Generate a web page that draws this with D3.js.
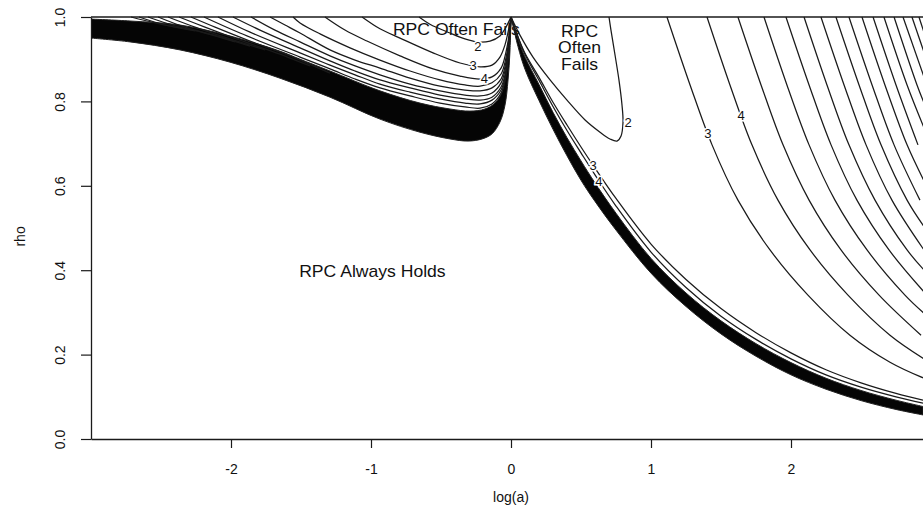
<!DOCTYPE html>
<html>
<head>
<meta charset="utf-8">
<script src="https://cdn.jsdelivr.net/npm/d3@7"></script>
<style>
  html, body { margin: 0; padding: 0; background: #fff; }
  svg { display: block; font-family: "Liberation Sans", Arial, Helvetica, sans-serif; }
</style>
</head>
<body>
<svg id="chart" width="923" height="508"></svg>
<script>
// Contour lines of the RPC measure, points as [log(a), rho]

const xTicks = [-2, -1, 0, 1, 2];
const yTicks = [0, 0.2, 0.4, 0.6, 0.8, 1.0];

// left of log(a) = 0: levels 2..10, drawn individually
const left2 = [[-0.657,1],[-0.579,0.983],[-0.436,0.962],[-0.329,0.948],[-0.243,0.941],[-0.15,0.943],[-0.079,0.955],[-0.036,0.976],[-0.007,0.995],[0,1]];
const left3 = [[-1.064,1],[-0.936,0.972],[-0.793,0.950],[-0.557,0.915],[-0.364,0.891],[-0.221,0.882],[-0.136,0.886],[-0.079,0.905],[-0.043,0.934],[-0.021,0.964],[0,1]];
const left4 = [[-1.329,1],[-1.186,0.969],[-1.029,0.943],[-0.793,0.908],[-0.557,0.877],[-0.364,0.860],[-0.221,0.853],[-0.136,0.858],[-0.071,0.879],[-0.036,0.917],[-0.014,0.957],[0,1]];
const left5 = [[-1.557,1],[-1.507,0.986],[-1.364,0.960],[-1.15,0.927],[-0.936,0.898],[-0.721,0.872],[-0.507,0.851],[-0.329,0.839],[-0.221,0.836],[-0.136,0.844],[-0.071,0.865],[-0.036,0.903],[-0.014,0.950],[0,1]];
const left6 = [[-1.721,1],[-1.614,0.981],[-1.507,0.962],[-1.293,0.922],[-1.114,0.898],[-0.936,0.879],[-0.721,0.855],[-0.507,0.836],[-0.329,0.827],[-0.221,0.825],[-0.136,0.832],[-0.071,0.853],[-0.036,0.893],[-0.014,0.945],[0,1]];
const left7 = [[-1.857,1],[-1.686,0.969],[-1.507,0.941],[-1.293,0.908],[-1.114,0.884],[-0.936,0.863],[-0.721,0.841],[-0.507,0.825],[-0.329,0.815],[-0.221,0.813],[-0.136,0.820],[-0.071,0.844],[-0.036,0.884],[-0.014,0.938],[0,1]];
const left8 = [[-1.986,1],[-1.793,0.969],[-1.507,0.927],[-1.293,0.896],[-1.114,0.872],[-0.936,0.851],[-0.721,0.832],[-0.507,0.815],[-0.329,0.806],[-0.221,0.803],[-0.136,0.810],[-0.071,0.834],[-0.036,0.874],[-0.014,0.931],[0,1]];
const left9 = [[-2.093,1],[-1.864,0.964],[-1.507,0.915],[-1.293,0.886],[-1.114,0.863],[-0.936,0.841],[-0.721,0.822],[-0.507,0.806],[-0.329,0.796],[-0.221,0.794],[-0.136,0.803],[-0.071,0.827],[-0.036,0.867],[-0.014,0.927],[0,1]];
const left10 = [[-2.193,1],[-1.936,0.962],[-1.507,0.905],[-1.293,0.877],[-1.114,0.853],[-0.936,0.832],[-0.721,0.813],[-0.507,0.796],[-0.329,0.787],[-0.221,0.784],[-0.136,0.794],[-0.071,0.820],[-0.036,0.860],[-0.014,0.922],[0,1]];

// higher left levels running into the dense band
const leftDense = [
  [[-2.286,1],[-2.114,0.976],[-1.864,0.943],[-1.579,0.908],[-1.293,0.867]],
  [[-2.371,1],[-2.186,0.976],[-1.936,0.945],[-1.65,0.912],[-1.436,0.884]],
  [[-2.45,1],[-2.257,0.976],[-2.007,0.948],[-1.757,0.922]],
  [[-2.521,1],[-2.329,0.976],[-2.079,0.953],[-1.864,0.931]],
  [[-2.593,1],[-2.4,0.979],[-2.186,0.962],[-1.971,0.941]],
  [[-2.657,1],[-2.471,0.981],[-2.257,0.967]],
  [[-2.714,1],[-2.543,0.986],[-2.364,0.974]]
];

// edges of the band where the left contours pile up
const leftBandTop = [[-3,0.995],[-2.721,0.9905],[-2.364,0.981],[-2.007,0.955],[-1.65,0.919],[-1.507,0.900],[-1.293,0.872],[-0.936,0.825],[-0.65,0.796],[-0.436,0.782],[-0.293,0.777],[-0.186,0.782],[-0.114,0.796],[-0.064,0.822],[-0.036,0.870],[-0.014,0.934],[0,1]];
const leftBandBottom = [[-3,0.950],[-2.721,0.941],[-2.364,0.922],[-2.007,0.893],[-1.65,0.855],[-1.293,0.810],[-0.936,0.758],[-0.65,0.727],[-0.436,0.711],[-0.307,0.706],[-0.207,0.711],[-0.136,0.723],[-0.079,0.751],[-0.043,0.791],[-0.021,0.851],[-0.007,0.922],[0,1]];

// right of log(a) = 0: the level-2 loop, the band running to the lower right, and its two outer levels
const right2 = [[0,1],[0.064,0.957],[0.157,0.905],[0.279,0.851],[0.4,0.803],[0.529,0.756],[0.636,0.727],[0.707,0.711],[0.757,0.706],[0.786,0.718],[0.8,0.751],[0.793,0.791],[0.771,0.851],[0.743,0.910],[0.714,0.969],[0.7,1]];
const right3 = [[0,1],[0.05,0.953],[0.1,0.914],[0.2,0.857],[0.3,0.798],[0.4,0.744],[0.5,0.692],[0.6,0.642],[0.75,0.570],[1.0,0.462],[1.25,0.378],[1.5,0.309],[1.75,0.252],[2.0,0.204],[2.25,0.164],[2.5,0.133],[2.75,0.108],[2.943,0.092]];
const right4 = [[0,1],[0.05,0.952],[0.1,0.911],[0.2,0.850],[0.3,0.788],[0.4,0.731],[0.5,0.678],[0.6,0.626],[0.75,0.552],[1.0,0.443],[1.25,0.359],[1.5,0.291],[1.75,0.236],[2.0,0.190],[2.25,0.152],[2.5,0.123],[2.75,0.100],[2.943,0.085]];
const rightBandTop = [[0,1],[0.05,0.948],[0.1,0.905],[0.2,0.840],[0.3,0.774],[0.4,0.714],[0.5,0.659],[0.6,0.607],[0.75,0.535],[1.0,0.428],[1.25,0.346],[1.5,0.280],[1.75,0.226],[2.0,0.181],[2.25,0.144],[2.5,0.115],[2.75,0.092],[2.943,0.077]];
const rightBandBottom = [[0,1],[0.05,0.93],[0.1,0.876],[0.2,0.802],[0.3,0.734],[0.4,0.671],[0.5,0.613],[0.6,0.563],[0.75,0.495],[1.0,0.393],[1.25,0.314],[1.5,0.249],[1.75,0.196],[2.0,0.152],[2.25,0.118],[2.5,0.091],[2.75,0.070],[2.943,0.057]];

// far right family, levels 3, 4, 5, ... from left to right
const farLevels = [3,4,5,6,7,8,9,10,11,12,13,14,15,16,17,18];
const farLines = [
  [[1.114,1],[1.279,0.839],[1.436,0.697],[1.621,0.566],[1.85,0.448],[2.121,0.341],[2.421,0.246],[2.707,0.182],[2.943,0.145]],
  [[1.4,1],[1.564,0.839],[1.721,0.697],[1.907,0.566],[2.136,0.448],[2.407,0.341],[2.707,0.246],[2.964,0.187]],
  [[1.621,1],[1.786,0.839],[1.943,0.697],[2.129,0.566],[2.357,0.448],[2.629,0.341],[2.929,0.246]],
  [[1.807,1],[1.971,0.839],[2.129,0.697],[2.314,0.566],[2.543,0.448],[2.814,0.341],[2.957,0.296]],
  [[1.964,1],[2.129,0.839],[2.286,0.697],[2.471,0.566],[2.7,0.448],[2.957,0.346]],
  [[2.093,1],[2.257,0.839],[2.414,0.697],[2.6,0.566],[2.829,0.448],[2.957,0.398]],
  [[2.214,1],[2.379,0.839],[2.536,0.697],[2.721,0.566],[2.95,0.448]],
  [[2.321,1],[2.486,0.839],[2.643,0.697],[2.829,0.566],[2.957,0.5]],
  [[2.414,1],[2.579,0.839],[2.736,0.697],[2.921,0.566]],
  [[2.507,1],[2.671,0.839],[2.829,0.697],[2.957,0.607]],
  [[2.586,1],[2.75,0.839],[2.907,0.697]],
  [[2.664,1],[2.829,0.839],[2.957,0.732]],
  [[2.736,1],[2.9,0.839],[2.957,0.791]],
  [[2.8,1],[2.957,0.851]],
  [[2.864,1],[2.957,0.910]],
  [[2.914,1],[2.957,0.957]]
];

// contour labels: level text, the line it sits on, and the log(a) where it sits
const contourLabels = [
  { text: "2", line: left2, at: -0.236, dy: 4 },
  { text: "3", line: left3, at: -0.27 },
  { text: "4", line: left4, at: -0.19 },
  { text: "2", line: right2, at: 0.8, dx: 5 },
  { text: "3", line: right3, at: 0.586 },
  { text: "4", line: right4, at: 0.614, dx: 2, dy: 4 },
  { text: String(farLevels[0]), line: farLines[0], at: 1.407 },
  { text: String(farLevels[1]), line: farLines[1], at: 1.643 }
];

const regionNotes = [
  { lines: ["RPC Often Fails"], at: [-0.39, 0.957] },
  { lines: ["RPC", "Often", "Fails"], at: [0.49, 0.953] },
  { lines: ["RPC Always Holds"], at: [-0.99, 0.385] }
];

const svg = d3.select("#chart");
const x = d3.scaleLinear().domain([-3, 3]).range([91, 931]);
const y = d3.scaleLinear().domain([0, 1]).range([439, 17]);

svg.append("defs").append("clipPath").attr("id", "plot")
  .append("rect").attr("x", x(-3)).attr("y", y(1) - 1)
  .attr("width", x(3) - x(-3)).attr("height", y(0) - y(1) + 2);

const plot = svg.append("g").attr("clip-path", "url(#plot)");

const line = d3.line().x(d => x(d[0])).y(d => y(d[1])).curve(d3.curveCatmullRom.alpha(0.5));

// region notes sit underneath the contours
regionNotes.forEach(n => {
  const t = plot.append("text")
    .attr("transform", `translate(${x(n.at[0])},${y(n.at[1])}) scale(1.1,1)`)
    .attr("text-anchor", "middle")
    .attr("font-size", 16)
    .attr("fill", "#111");
  n.lines.forEach((s, i) => t.append("tspan").attr("x", 0).attr("dy", i === 0 ? 0 : 16.5).text(s));
});

// the dense bands, as filled outlines
function bandPath(a, b) {
  const p1 = line(a);
  const p2 = line(b.slice().reverse());
  return p1 + "L" + p2.slice(1) + "Z";
}
plot.append("path").attr("d", bandPath(leftBandTop, leftBandBottom))
  .attr("fill", "#050505").attr("stroke", "#222").attr("stroke-width", 1);
plot.append("path").attr("d", bandPath(rightBandBottom, rightBandTop))
  .attr("fill", "#050505").attr("stroke", "#222").attr("stroke-width", 1);

const contours = [left2, left3, left4, left5, left6, left7, left8, left9, left10,
  ...leftDense, right2, right3, right4, ...farLines];

plot.selectAll("path.contour").data(contours).join("path")
  .attr("class", "contour")
  .attr("d", line)
  .attr("fill", "none")
  .attr("stroke", "#1a1a1a")
  .attr("stroke-width", 1.25);

function rhoAt(pts, a) {
  for (let i = 0; i < pts.length - 1; i++) {
    const p = pts[i], q = pts[i + 1];
    if ((p[0] - a) * (q[0] - a) <= 0 && p[0] !== q[0]) {
      const t = (a - p[0]) / (q[0] - p[0]);
      return p[1] + t * (q[1] - p[1]);
    }
  }
  return pts[pts.length - 1][1];
}

plot.selectAll("text.lvl").data(contourLabels).join("text")
  .attr("class", "lvl")
  .attr("x", d => x(d.at) + (d.dx || 0))
  .attr("y", d => y(rhoAt(d.line, d.at)) + (d.dy || 0))
  .attr("dy", "0.36em")
  .attr("text-anchor", "middle")
  .attr("font-size", 13)
  .attr("fill", "#111")
  .attr("stroke", "#fff").attr("stroke-width", 3).attr("paint-order", "stroke")
  .text(d => d.text);

// top edge at rho = 1
svg.append("line")
  .attr("x1", x(-3)).attr("x2", x(3)).attr("y1", y(1)).attr("y2", y(1))
  .attr("stroke", "#1a1a1a").attr("stroke-width", 1.6);

// axes
const xAxis = svg.append("g").attr("transform", `translate(0,${y(0)})`)
  .call(d3.axisBottom(x).tickValues(xTicks).tickSize(9).tickSizeOuter(0).tickFormat(d => String(d)));
xAxis.select(".domain").attr("stroke", "#1a1a1a").attr("stroke-width", 1.6);
xAxis.selectAll(".tick line").attr("stroke", "#1a1a1a").attr("stroke-width", 1.2);
xAxis.selectAll(".tick text").attr("y", 25).attr("font-size", 14).attr("fill", "#111")
  .attr("font-family", "'Liberation Sans', Arial, sans-serif");

const yAxis = svg.append("g").attr("transform", `translate(${x(-3)},0)`)
  .call(d3.axisLeft(y).tickValues(yTicks).tickSize(10).tickSizeOuter(0).tickFormat(d3.format(".1f")));
yAxis.select(".domain").attr("stroke", "#1a1a1a").attr("stroke-width", 1.3);
yAxis.selectAll(".tick line").attr("stroke", "#1a1a1a").attr("stroke-width", 1.2);
yAxis.selectAll(".tick text")
  .attr("x", null).attr("dy", null)
  .attr("text-anchor", "middle")
  .attr("transform", "translate(-26,0) rotate(-90)")
  .attr("font-size", 14).attr("fill", "#111")
  .attr("font-family", "'Liberation Sans', Arial, sans-serif");

svg.append("text")
  .attr("x", x(0)).attr("y", 502)
  .attr("text-anchor", "middle").attr("font-size", 14).attr("fill", "#111")
  .text("log(a)");

svg.append("text")
  .attr("transform", `translate(25,${y(0.48)}) rotate(-90)`)
  .attr("text-anchor", "middle").attr("font-size", 14).attr("fill", "#111")
  .text("rho");
</script>
</body>
</html>
